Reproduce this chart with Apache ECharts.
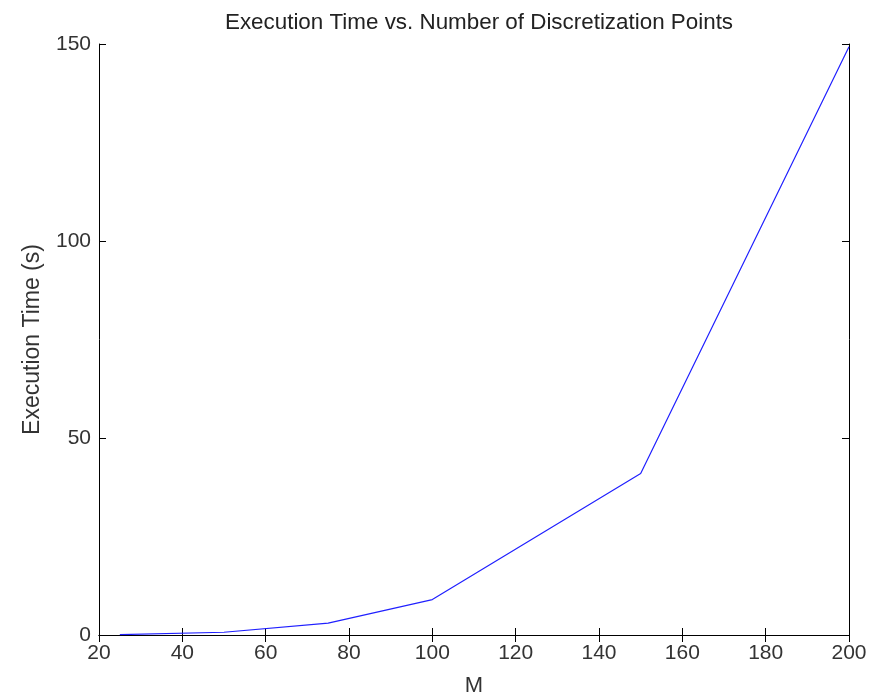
<!DOCTYPE html>
<html>
<head>
<meta charset="utf-8">
<script src="https://cdn.jsdelivr.net/npm/echarts@6/dist/echarts.min.js"></script>
<style>html,body{margin:0;padding:0;background:#fff}#c{width:873px;height:697px}</style>
</head>
<body>
<div id="c"></div>
<script>
const xValues = [25, 50, 75, 100, 150, 200];
const yValues = [0.1, 0.7, 3.0, 9.0, 41.0, 149.3];
const xTicks = [20, 40, 60, 80, 100, 120, 140, 160, 180, 200];
const yTicks = [0, 50, 100, 150];
const titleText = 'Execution Time vs. Number of Discretization Points';
const xLabel = 'M';
const yLabel = 'Execution Time (s)';

const font = 'Liberation Sans, Arial, sans-serif';
const chart = echarts.init(document.getElementById('c'), null, {renderer: 'canvas'});
const axisLineStyle = {color: '#000', width: 1};
const tickStyle = {show: true, inside: true, length: 7, lineStyle: {color: '#000', width: 1}};
chart.setOption({
  animation: false,
  backgroundColor: '#fff',
  title: {
    text: titleText, left: 474, textAlign: 'center', top: 7,
    textStyle: {fontFamily: font, fontSize: 22.4, fontWeight: 'normal', color: '#222'}
  },
  grid: {left: 99, top: 44, right: 24, bottom: 62, show: false, containLabel: false, outerBoundsMode: 'none'},
  xAxis: [{
    type: 'value', min: 20, max: 200, interval: 20,
    name: xLabel, nameLocation: 'middle', nameGap: 40,
    nameTextStyle: {fontFamily: font, fontSize: 22, color: '#333'},
    axisLine: {show: true, lineStyle: axisLineStyle},
    axisTick: tickStyle,
    axisLabel: {fontFamily: font, fontSize: 21, color: '#333', margin: 8},
    splitLine: {show: false}
  }, {
    type: 'value', min: 20, max: 200, interval: 20, position: 'top',
    axisLine: {show: true, lineStyle: axisLineStyle},
    axisTick: tickStyle, axisLabel: {show: false}, splitLine: {show: false}
  }],
  yAxis: [{
    type: 'value', min: 0, max: 150, interval: 50,
    name: yLabel, nameLocation: 'middle', nameGap: 55,
    nameTextStyle: {fontFamily: font, fontSize: 23, color: '#333'},
    axisLine: {show: true, lineStyle: axisLineStyle},
    axisTick: tickStyle,
    axisLabel: {fontFamily: font, fontSize: 21, color: '#333', margin: 8},
    splitLine: {show: false}
  }, {
    type: 'value', min: 0, max: 150, interval: 50, position: 'right',
    axisLine: {show: true, lineStyle: axisLineStyle},
    axisTick: tickStyle, axisLabel: {show: false}, splitLine: {show: false}
  }],
  series: [{
    type: 'line',
    data: xValues.map((x, i) => [x, yValues[i]]),
    showSymbol: false, symbol: 'none',
    lineStyle: {color: '#2020ff', width: 1.2},
    xAxisIndex: 0, yAxisIndex: 0
  }]
});
</script>
</body>
</html>
